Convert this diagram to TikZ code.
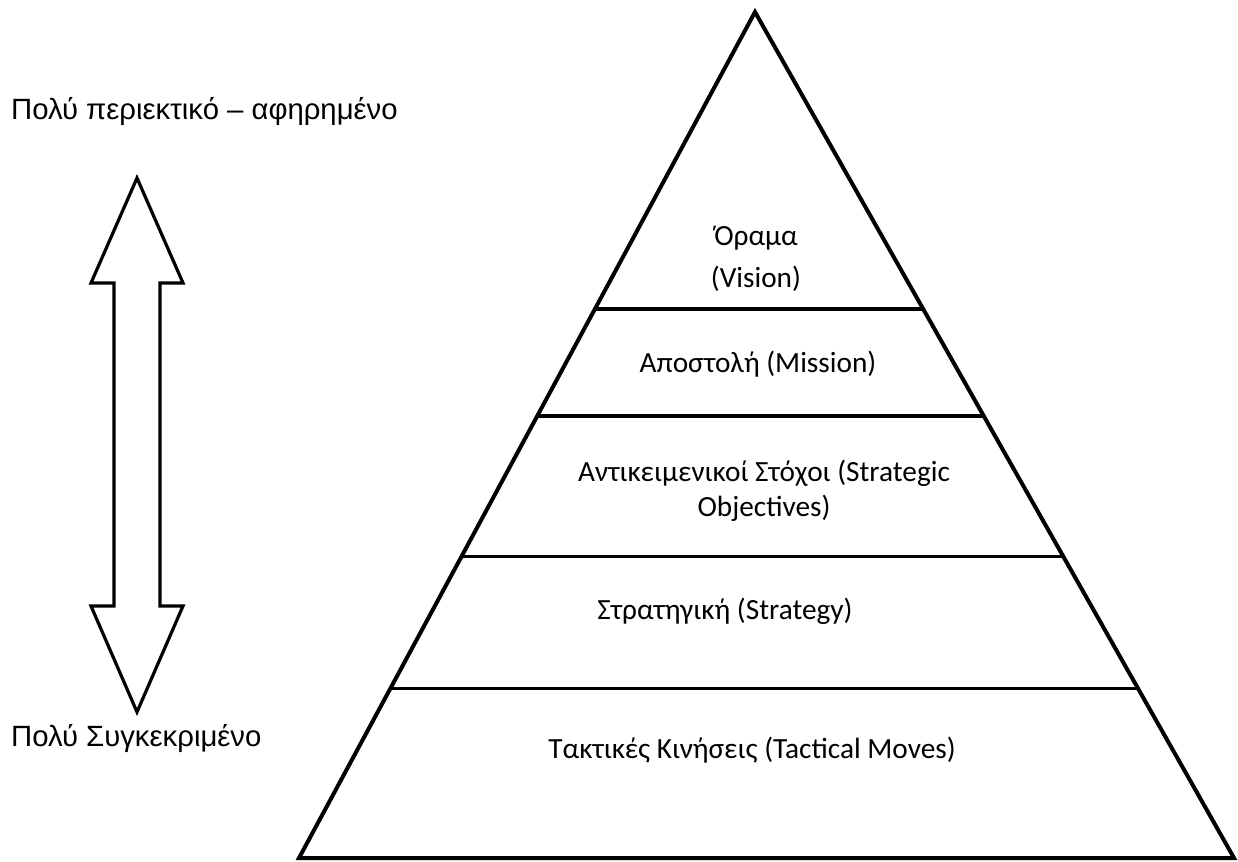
\documentclass[tikz,border=0pt]{standalone}
\usepackage{fontspec}
\setmainfont{Carlito}
\newfontfamily\arialfont{Liberation Sans}
\usepackage{tikz}
\usetikzlibrary{shapes,arrows,positioning,calc}
\tikzstyle{level} = [text=black, anchor=base, inner sep=0pt, font=\fontsize{29.3}{35.7}\selectfont]
\tikzstyle{side} = [text=black, anchor=base west, inner sep=0pt, font=\arialfont\fontsize{29.3}{35.7}\selectfont]
\tikzstyle{edge} = [draw, line width=4pt, line join=miter]
\tikzstyle{band} = [draw, line width=3.2pt]

\begin{document}
\begin{tikzpicture}[x=1pt, y=-1pt]
\useasboundingbox (0,0) rectangle (1238,861);

% pyramid =============================
\coordinate (apex) at (755,12);
\coordinate (bl) at (299,858);
\coordinate (br) at (1234,858);
\path[edge] (apex) -- (bl) -- (br) -- cycle;

% bands
\path[band] ($(apex)!0.351!(bl)$) -- ($(apex)!0.351!(br)$);
\path[band] ($(apex)!0.4775!(bl)$) -- ($(apex)!0.4775!(br)$);
\path[band] ($(apex)!0.644!(bl)$) -- ($(apex)!0.644!(br)$);
\path[band] ($(apex)!0.800!(bl)$) -- ($(apex)!0.800!(br)$);

% levels
\node[level] (vision) at (756,245) {Όραμα};
\node[level] (visionen) at (756,287) {(Vision)};
\node[level] (mission) at (758,372) {Αποστολή (Mission)};
\node[level] (objectives) at (764,481) {Αντικειμενικοί Στόχοι (Strategic};
\node[level] (objectivesen) at (764,516) {Objectives)};
\node[level] (strategy) at (725,619) {Στρατηγική (Strategy)};
\node[level] (tactics) at (752,758) {Τακτικές Κινήσεις (Tactical Moves)};

% double arrow =============================
\path[edge, line width=3.2pt] (137,178) -- (183,283) -- (160,283) -- (160,606) -- (183,606)
  -- (137,712) -- (91,606) -- (114,606) -- (114,283) -- (91,283) -- cycle;

\node[side] (abstract) at (11,120) {Πολύ περιεκτικό – αφηρημένο};
\node[side] (concrete) at (11,746) {Πολύ Συγκεκριμένο};

\end{tikzpicture}
\end{document}
